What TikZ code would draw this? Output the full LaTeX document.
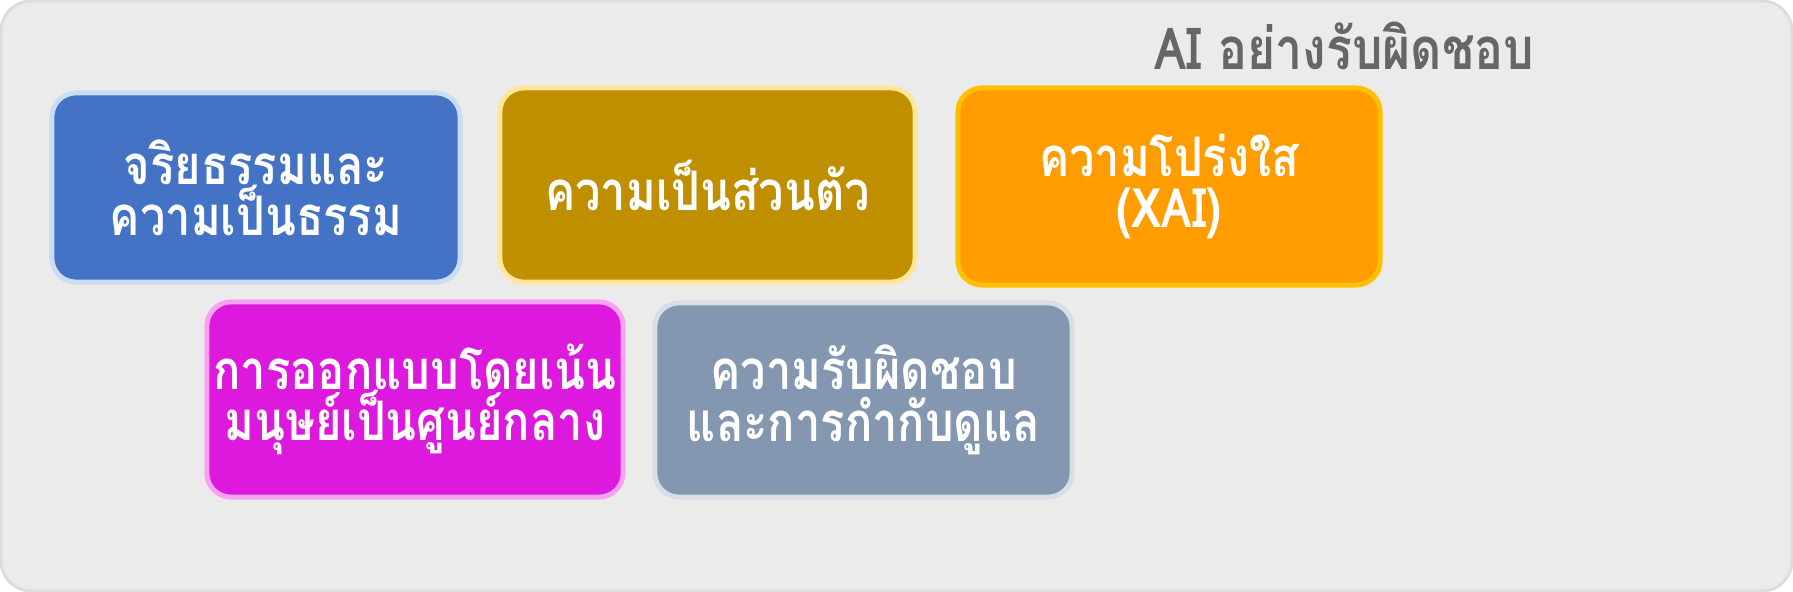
\documentclass[tikz,border=0pt]{standalone}
\usepackage{fontspec}
\newfontfamily\thaifont[Script=Thai,FakeStretch=0.83]{Loma}
\definecolor{bgfill}{HTML}{EBEBEB}
\definecolor{bgline}{HTML}{DCDCDC}
\definecolor{titlecol}{HTML}{666666}
\definecolor{bluefill}{HTML}{4472C4}
\definecolor{blueline}{HTML}{C9DDF3}
\definecolor{goldfill}{HTML}{BF8F00}
\definecolor{goldline}{HTML}{FFE699}
\definecolor{orangefill}{HTML}{FF9C00}
\definecolor{orangeline}{HTML}{FFC000}
\definecolor{magfill}{HTML}{DD19DD}
\definecolor{magline}{HTML}{F6A2F0}
\definecolor{grayfill}{HTML}{8497B0}
\definecolor{grayline}{HTML}{D8DEE6}
\tikzset{
  card/.style={rectangle, rounded corners=0.24cm, line width=1.4pt, align=center,
    text=white, font=\thaifont\bfseries\fontsize{15.5}{14.6}\selectfont, inner sep=0pt,
    minimum width=4.12cm, minimum height=1.93cm},
}
\begin{document}
\begin{tikzpicture}[x=0.01cm, y=-0.01cm]
\useasboundingbox (0,0) rectangle (1793,592);
\draw[fill=bgfill, draw=bgline, line width=0.8pt, rounded corners=0.3cm] (1,1) rectangle (1792,591);
\node[anchor=east, inner sep=0pt, text=titlecol, font=\thaifont\bfseries\fontsize{16.5}{18}\selectfont] (title) at (1535,46) {AI อย่างรับผิดชอบ};
\node[card, fill=bluefill, draw=blueline, minimum width=4.08cm, minimum height=1.89cm] (ethics) at (256,187.5) {จริยธรรมและ\\ความเป็นธรรม};
\node[card, fill=goldfill, draw=goldline, minimum width=4.15cm, minimum height=1.94cm] (privacy) at (707.5,185) {ความเป็นส่วนตัว};
\node[card, fill=orangefill, draw=orangeline, minimum width=4.22cm, minimum height=1.97cm] (xai) at (1169,186.5) {ความโปร่งใส\\(XAI)};
\node[card, fill=magfill, draw=magline, minimum width=4.16cm, minimum height=1.95cm] (human) at (415,399.5) {การออกแบบโดยเน้น\\มนุษย์เป็นศูนย์กลาง};
\node[card, fill=grayfill, draw=grayline, minimum width=4.17cm, minimum height=1.94cm] (govern) at (863.5,400) {ความรับผิดชอบ\\และการกำกับดูแล};
\end{tikzpicture}
\end{document}
